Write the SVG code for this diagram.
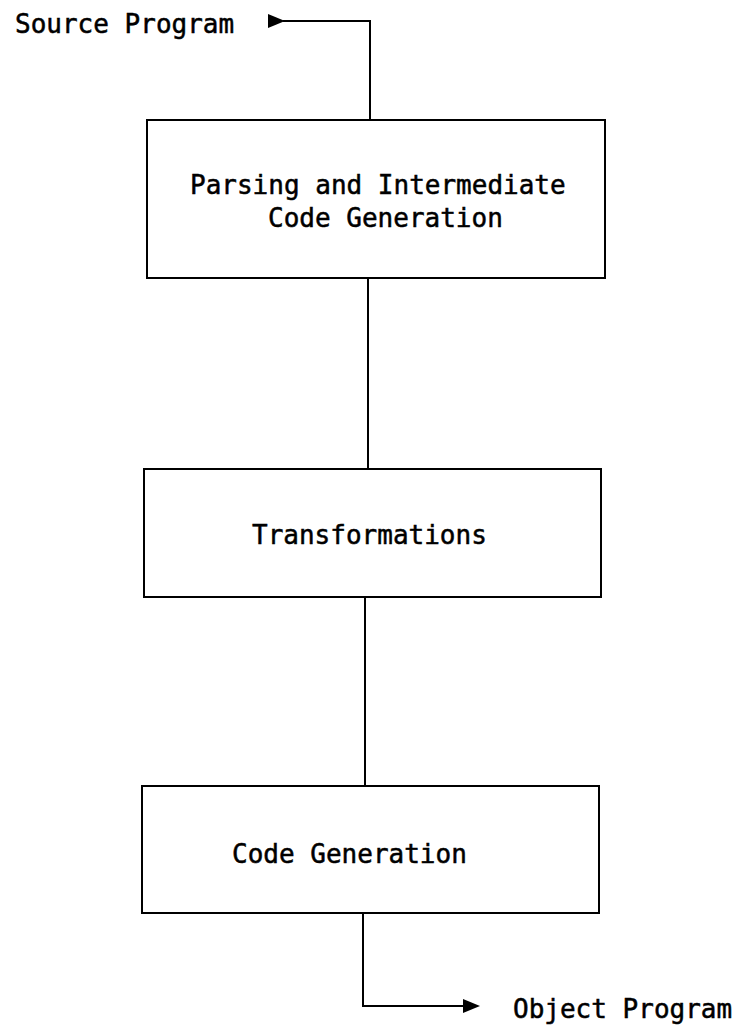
<svg xmlns="http://www.w3.org/2000/svg" width="735" height="1030" viewBox="0 0 735 1030">
<style>
.box{fill:#fff;stroke:#000;stroke-width:2}
.ln{fill:none;stroke:#000;stroke-width:2}
.t{font-family:"DejaVu Sans Mono","Liberation Mono",monospace;font-size:26px;fill:#000;stroke:#000;stroke-width:0.5}
</style>
<rect width="735" height="1030" fill="#fff"/>
<g id="connectors">
<path class="ln" d="M283,21 H370 V120"/>
<polygon points="268,14 285,21 268,28" fill="#000"/>
<path class="ln" d="M368,278 V469"/>
<path class="ln" d="M365,597 V786"/>
<path class="ln" d="M363,913 V1006 H466"/>
<polygon points="463,999 480,1006 463,1013" fill="#000"/>
</g>
<g id="source"><text class="t" x="15" y="33">Source Program</text></g>
<g id="parsing">
<rect class="box" x="147" y="120" width="458" height="158"/>
<text class="t" x="190" y="194">Parsing and Intermediate</text>
<text class="t" x="268" y="227">Code Generation</text>
</g>
<g id="transformations">
<rect class="box" x="144" y="469" width="457" height="128"/>
<text class="t" x="252" y="544">Transformations</text>
</g>
<g id="codegen">
<rect class="box" x="142" y="786" width="457" height="127"/>
<text class="t" x="232" y="863">Code Generation</text>
</g>
<g id="object"><text class="t" x="513" y="1018">Object Program</text></g>
</svg>
